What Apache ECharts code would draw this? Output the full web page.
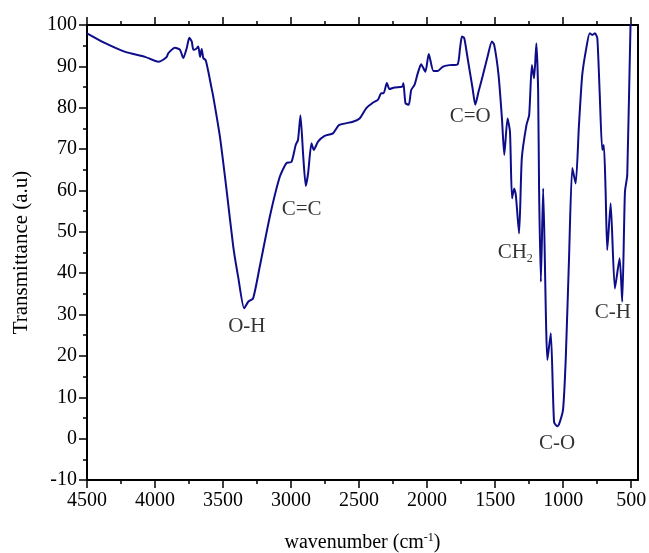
<!DOCTYPE html>
<html lang="en">
<head>
    <meta charset="UTF-8">
    <title>FTIR</title>
    <script src="https://cdn.jsdelivr.net/npm/echarts@6.0.0/dist/echarts.min.js"></script>
    <style>
        html, body { margin: 0; padding: 0; background: #fff; }
    </style>
</head>
<body>
    <div id="main" style="width: 649px;height:553px;"></div>
    <script type="text/javascript">
        // wavenumber (cm-1) and transmittance
        var wavenumber = [4500, 4366, 4219, 4073, 3975, 3940, 3914, 3902, 3853, 3816, 3792, 3767, 3748, 3730, 3718, 3699, 3682, 3669, 3657, 3645,
            3628, 3608, 3589, 3572, 3523, 3474, 3425, 3389, 3345, 3315, 3279, 3230, 3156, 3083, 3034, 2997, 2966, 2949, 2931, 2912,
            2892, 2875, 2850, 2833, 2802, 2753, 2692, 2648, 2546, 2496, 2447, 2399, 2362, 2337, 2320, 2296, 2277, 2240, 2183, 2174,
            2159, 2135, 2117, 2093, 2069, 2044, 2013, 1988, 1954, 1922, 1886, 1837, 1776, 1758, 1744, 1727, 1702, 1666, 1646, 1622,
            1593, 1556, 1524, 1507, 1475, 1450, 1433, 1409, 1391, 1376, 1360, 1348, 1324, 1304, 1270, 1250, 1230, 1214, 1197, 1184,
            1177, 1164, 1147, 1116, 1091, 1067, 1043, 1030, 1001, 981, 957, 933, 908, 884, 860, 830, 805, 786, 766, 749,
            732, 713, 701, 688, 676, 651, 620, 585, 566, 546, 529, 505, 490];
        var transmittance = [98.0, 95.6, 93.5, 92.3, 91.1, 91.6, 92.3, 93.2, 94.5, 94.0, 92.0, 94.4, 96.9, 96.0, 94.0, 94.2, 94.8, 92.3, 94.2, 92.0,
            91.5, 88.7, 85.5, 82.7, 73.0, 60.1, 46.4, 39.1, 31.5, 33.1, 33.9, 41.6, 53.7, 63.3, 66.6, 66.9, 71.0, 72.2, 78.2, 69.0,
            61.1, 64.1, 71.4, 69.8, 71.8, 73.2, 73.8, 75.8, 76.6, 77.4, 79.9, 81.2, 81.9, 83.5, 83.5, 86.0, 84.5, 84.9, 85.1, 85.9,
            81.1, 80.7, 84.3, 85.5, 88.3, 90.5, 88.7, 93.0, 88.9, 88.9, 89.9, 90.3, 90.5, 94.4, 97.2, 96.8, 91.9, 84.7, 80.7, 83.9,
            87.5, 92.3, 96.0, 95.2, 87.9, 77.4, 68.6, 77.4, 74.2, 58.1, 60.5, 58.9, 49.6, 67.8, 75.8, 78.2, 90.3, 87.1, 95.6, 83.9,
            60.0, 37.9, 60.5, 19.0, 25.5, 4.0, 3.0, 3.5, 7.0, 19.4, 43.6, 65.4, 61.7, 75.8, 87.9, 94.4, 98.0, 97.6, 98.0, 96.8,
            83.9, 69.8, 71.0, 59.7, 45.6, 56.9, 36.3, 43.6, 33.1, 59.7, 63.7, 100, 110];

        // band labels and where they sit (data coords)
        var bandNames = ['O-H', 'C=C', 'C=O', '{m|CH}{s|2}', 'C-O', 'C-H'];
        var bandX = [3325, 2922, 1683, 1352, 1045, 635];
        var bandY = [27.0, 55.3, 78.0, 45.1, -1.1, 30.4];

        var xMajor = [4500, 4000, 3500, 3000, 2500, 2000, 1500, 1000, 500];
        var xMinor = [4250, 3750, 3250, 2750, 2250, 1750, 1250, 750];

        var font = '"Liberation Serif", "DejaVu Serif", serif';
        var ink = '#000';

        var spectrum = wavenumber.map(function (w, i) { return [w, transmittance[i]]; });
        var bands = bandNames.map(function (n, i) { return [bandX[i], bandY[i], n]; });

        var myChart = echarts.init(document.getElementById('main'));

        function xAx(pos, ticks, len, showLine, showLabel) {
            return {
                type: 'value', position: pos, inverse: true, min: 450, max: 4500,
                axisLine: { show: showLine, onZero: false, lineStyle: { color: '#000', width: 2 } },
                axisTick: { show: true, customValues: ticks, length: len, lineStyle: { color: '#000', width: 1.5 } },
                axisLabel: showLabel ? {
                    customValues: xMajor, color: ink, fontSize: 20, fontFamily: font, margin: 11,
                    formatter: function (v) { return String(v); }
                } : { show: false },
                splitLine: { show: false }
            };
        }

        var xAxes = [
            xAx('bottom', xMajor, 8, true, true),
            xAx('bottom', xMinor, 4, false, false),
            xAx('top', xMajor, 8, true, false),
            xAx('top', xMinor, 4, false, false)
        ];
        xAxes[0].name = 'wavenumber (cm{s|-1})';
        xAxes[0].nameLocation = 'middle';
        xAxes[0].nameGap = 52;
        xAxes[0].nameTextStyle = {
            color: ink, fontSize: 20, fontFamily: font,
            rich: { s: { fontSize: 12, fontFamily: font, color: ink, verticalAlign: 'top', padding: [0, 0, 10, 0] } }
        };

        var option = {
            animation: false,
            backgroundColor: '#fff',
            grid: { left: 87, right: 11, top: 25, bottom: 73, containLabel: false, outerBoundsMode: 'none' },
            xAxis: xAxes,
            yAxis: [
                {
                    type: 'value', min: -10, max: 100, interval: 10,
                    name: 'Transmittance (a.u)', nameLocation: 'middle', nameGap: 55,
                    nameTextStyle: { color: ink, fontSize: 21, fontFamily: font },
                    axisLine: { show: true, lineStyle: { color: '#000', width: 2 } },
                    axisTick: { show: true, length: 8, lineStyle: { color: '#000', width: 1.5 } },
                    minorTick: { show: true, splitNumber: 2, length: 4, lineStyle: { color: '#000', width: 1.5 } },
                    axisLabel: { color: ink, fontSize: 20, fontFamily: font, margin: 10 },
                    splitLine: { show: false }
                },
                {
                    type: 'value', position: 'right', min: -10, max: 100,
                    axisLine: { show: true, lineStyle: { color: '#000', width: 2 } },
                    axisTick: { show: false }, axisLabel: { show: false }, splitLine: { show: false }
                }
            ],
            series: [
                {
                    type: 'line', data: spectrum, showSymbol: false, smooth: 0.2,
                    lineStyle: { color: '#0d0d8a', width: 2 }
                },
                {
                    type: 'scatter', data: bands, symbolSize: 0, silent: true,
                    label: {
                        show: true, position: 'inside', color: ink, fontSize: 21, fontFamily: font,
                        formatter: function (p) { return p.data[2]; },
                        rich: {
                            m: { fontSize: 21, fontFamily: font, color: ink },
                            s: { fontSize: 12, fontFamily: font, color: ink, verticalAlign: 'bottom', padding: [14, 0, 0, 0] }
                        }
                    }
                }
            ]
        };

        myChart.setOption(option);
    </script>
</body>
</html>
